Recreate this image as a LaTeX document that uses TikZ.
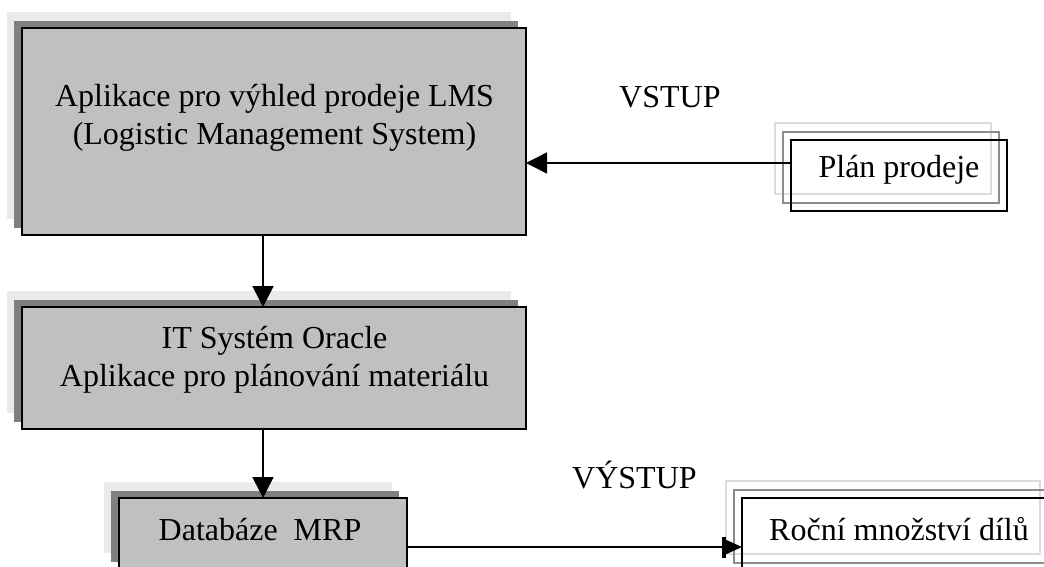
\documentclass[tikz,border=0pt]{standalone}
\usepackage{fontspec}
\setmainfont{Liberation Serif}
\usetikzlibrary{arrows.meta,calc,backgrounds}
\definecolor{boxgray}{HTML}{C0C0C0}
\definecolor{darkshadow}{HTML}{808080}
\definecolor{lightshadow}{HTML}{EAEAEA}
\definecolor{midline}{HTML}{8C8C8C}
\definecolor{lightline}{HTML}{DCDCDC}
\begin{document}
\begin{tikzpicture}[x=1pt,y=-1pt,
  mainbox/.style={draw=black, fill=boxgray, line width=2pt, inner sep=0pt, outer sep=0pt, rectangle},
  whitebox/.style={draw=black, line width=2pt, inner sep=0pt, outer sep=0pt, rectangle},
  txt/.style={font=\fontsize{32}{38}\selectfont, inner sep=0pt, align=center},
  conn/.style={line width=1.5pt, -{Triangle[length=21pt,width=21pt]}},
  conn2/.style={line width=1.5pt, -{Bar[width=21pt,line width=4pt]Triangle[length=16pt,width=14pt]}},
  shD/.style={fill=darkshadow},
  shL/.style={fill=lightshadow},
  olD/.style={draw=midline, line width=1.5pt},
  olL/.style={draw=lightline, line width=1.5pt}
]
\useasboundingbox (0,0) rectangle (1044,566);
\clip (0,0) rectangle (1044,566);

% main boxes
\node[mainbox, minimum width=504pt, minimum height=207pt] (lms) at (274,131.5) {};
\node[mainbox, minimum width=504pt, minimum height=122pt] (ora) at (274,368) {};
\node[mainbox, minimum width=288pt, minimum height=71pt] (db) at (263,533.5) {};
\node[whitebox, minimum width=216pt, minimum height=71pt] (plan) at (899,175.5) {};
\node[whitebox, minimum width=314pt, minimum height=73pt] (out) at (899,534.5) {};

\begin{scope}[on background layer]
  \fill[white] (0,0) rectangle (1044,566);
  \foreach \b in {lms,ora,db}{
    \fill[shL] ($(\b.north west)+(-15,-16)$) rectangle ($(\b.south east)+(-15,-16)$);
    \fill[shD] ($(\b.north west)+(-8,-7)$) rectangle ($(\b.south east)+(-8,-7)$);
  }
  \foreach \b in {plan,out}{
    \draw[olL] ($(\b.north west)+(-16,-17)$) rectangle ($(\b.south east)+(-16,-17)$);
    \draw[olD] ($(\b.north west)+(-8,-8)$) rectangle ($(\b.south east)+(-8,-8)$);
  }
\end{scope}

% texts (base anchor = baseline of last line)
\node[txt, anchor=base] (t1) at (274.5,144) {Aplikace pro výhled prodeje LMS\\(Logistic Management System)};
\node[txt, anchor=base] (t2) at (274.5,386.5) {IT Systém Oracle\\Aplikace pro plánování materiálu};
\node[txt, anchor=base] (t3) at (260,540) {Databáze\ \ MRP};
\node[txt, anchor=base] (t4) at (899,177) {Plán prodeje};
\node[txt, anchor=base] (t5) at (899,540) {Roční množství dílů};
\node[txt, anchor=base west] (vstup) at (619,107) {VSTUP};
\node[txt, anchor=base west] (vystup) at (572,488) {VÝSTUP};

% connectors
\coordinate (yIn) at (0,163);
\coordinate (yOut) at (0,547);
\draw[conn] (lms.south -| db.north) -- (ora.north -| db.north);
\draw[conn] (ora.south -| db.north) -- (db.north);
\draw[conn] (plan.west |- yIn) -- (lms.east |- yIn);
\draw[conn2] (db.east |- yOut) -- (out.west |- yOut);
\end{tikzpicture}
\end{document}
